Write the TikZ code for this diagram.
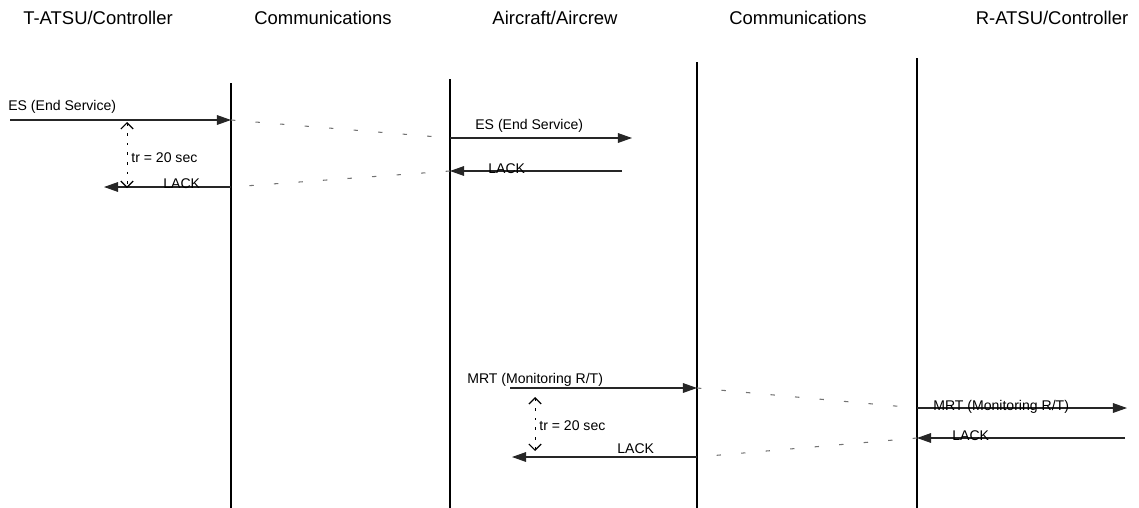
\documentclass[tikz,border=0pt]{standalone}
\usepackage{fontspec}
\setmainfont{Liberation Sans}
\usetikzlibrary{arrows.meta}
\begin{document}
\begin{tikzpicture}[x=0.02cm,y=-0.02cm,
    head/.style={font=\fontsize{10.5}{12}\selectfont, inner sep=0pt},
    lbl/.style={font=\fontsize{8}{9.6}\selectfont, inner sep=0pt, anchor=base west},
    life/.style={line width=1.2pt},
    msg/.style={line width=0.6pt, black!85, -{Triangle[length=8pt,width=5.5pt]}},
    hop/.style={black!55, line width=0.6pt, dash pattern=on 2.5pt off 11.5pt},
    timer/.style={line width=0.5pt, dash pattern=on 1.5pt off 4pt,
        {Straight Barb[length=3.5pt,width=7pt,line width=0.7pt]}-{Straight Barb[length=3.5pt,width=7pt,line width=0.7pt]}}]
    \useasboundingbox (0,0) rectangle (1139,507);
    % Column headings
    \node[head] (h1) at (98,18) {T-ATSU/Controller};
    \node[head] (h2) at (323,18) {Communications};
    \node[head] (h3) at (555,18) {Aircraft/Aircrew};
    \node[head] (h4) at (798,18) {Communications};
    \node[head] (h5) at (1052,18) {R-ATSU/Controller};

    % Lifelines
    \coordinate (t1) at (231,83);  \coordinate (b1) at (231,508);
    \coordinate (t2) at (450,79);  \coordinate (b2) at (450,508);
    \coordinate (t3) at (697,62);  \coordinate (b3) at (697,508);
    \coordinate (t4) at (917,58);  \coordinate (b4) at (917,508);
    \draw[life] (t1) -- (b1);
    \draw[life] (t2) -- (b2);
    \draw[life] (t3) -- (b3);
    \draw[life] (t4) -- (b4);

    % End Service exchange
    \coordinate (es0) at (10,120);   \coordinate (es1) at (231,120);
    \coordinate (es2) at (450,138);  \coordinate (es3) at (632,138);
    \coordinate (lk3) at (622,171);  \coordinate (lk2) at (450,171);
    \coordinate (lk1) at (231,187);  \coordinate (lk0) at (104,187);
    \draw[msg] (es0) -- (es1);
    \node[lbl] (esa) at (8,110) {ES (End Service)};
    \draw[hop] (es1) -- (es2);
    \draw[msg] (es2) -- (es3);
    \node[lbl] (esb) at (475,129) {ES (End Service)};
    \draw[msg] (lk3) -- (lk2);
    \node[lbl] (lka) at (488,173) {LACK};
    \draw[hop] (lk2) -- (lk1);
    \draw[msg] (lk1) -- (lk0);
    \node[lbl] (lkb) at (163,188) {LACK};
    \coordinate (tr1a) at (127,122); \coordinate (tr1b) at (127,188);
    \draw[timer] (tr1a) -- (tr1b);
    \node[lbl] (tr1) at (131,162) {tr = 20 sec};

    % Monitoring R/T exchange
    \coordinate (mr0) at (510,388);  \coordinate (mr1) at (697,388);
    \coordinate (mr2) at (917,408);  \coordinate (mr3) at (1127,408);
    \coordinate (lk7) at (1125,438); \coordinate (lk6) at (917,438);
    \coordinate (lk5) at (697,457);  \coordinate (lk4) at (512,457);
    \draw[msg] (mr0) -- (mr1);
    \node[lbl] (mra) at (467,383) {MRT (Monitoring R/T)};
    \draw[hop] (mr1) -- (mr2);
    \draw[msg] (mr2) -- (mr3);
    \node[lbl] (mrb) at (933,410) {MRT (Monitoring R/T)};
    \draw[msg] (lk7) -- (lk6);
    \node[lbl] (lkc) at (952,440) {LACK};
    \draw[hop] (lk6) -- (lk5);
    \draw[msg] (lk5) -- (lk4);
    \node[lbl] (lkd) at (617,453) {LACK};
    \coordinate (tr2a) at (535,397); \coordinate (tr2b) at (535,451);
    \draw[timer] (tr2a) -- (tr2b);
    \node[lbl] (tr2) at (539,430) {tr = 20 sec};
\end{tikzpicture}
\end{document}
